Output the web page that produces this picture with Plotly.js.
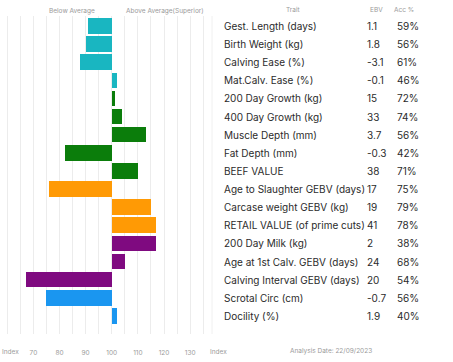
<!DOCTYPE html>
<html>
<head>
<meta charset="utf-8">
<script src="https://cdn.plot.ly/plotly-3.0.1.min.js"></script>
<style>html,body{margin:0;padding:0;background:#fff;}#chart{width:453px;height:362px;}</style>
</head>
<body>
<div id="chart"></div>
<script>
const traits = ["Gest. Length (days)","Birth Weight (kg)","Calving Ease (%)","Mat.Calv. Ease (%)","200 Day Growth (kg)","400 Day Growth (kg)","Muscle Depth (mm)","Fat Depth (mm)","BEEF VALUE","Age to Slaughter GEBV (days)","Carcase weight GEBV (kg)","RETAIL VALUE (of prime cuts)","200 Day Milk (kg)","Age at 1st Calv. GEBV (days)","Calving Interval GEBV (days)","Scrotal Circ (cm)","Docility (%)"];
const ebv = ["1.1","1.8","-3.1","-0.1","15","33","3.7","-0.3","38","17","19","41","2","24","20","-0.7","1.9"];
const acc = ["59%","56%","61%","46%","72%","74%","56%","42%","71%","75%","79%","78%","38%","68%","54%","56%","40%"];
const indexValues = [91,90,88,102,101.3,104,113,82,110,76,115,117,117,105,67,75,102];
const groups = ["fertility","fertility","fertility","fertility","growth","growth","growth","growth","growth","carcase","carcase","carcase","maternal","maternal","maternal","other","other"];
const groupColors = {fertility:"#19b6c1", growth:"#0b7d0b", carcase:"#ff9a05", maternal:"#7f0a80", other:"#1a96f0"};
const tickVals = [60,65,70,75,80,85,90,95,100,105,110,115,120,125,130,135];
const tickText = ["","","70","","80","","90","","100","","110","","120","","130",""];
const headerLeft = ["Below Average","Above Average(Superior)"];
const tableHeader = ["Trait","EBV","Acc %"];
const footerText = ["Index","Index","Analysis Date: 22/09/2023"];

const W = 453, H = 362;
const px = v => v / W;
const rows = traits.map((_, i) => i);

const trace = {
  type: "bar",
  orientation: "h",
  y: rows,
  x: indexValues.map(v => v - 100),
  base: indexValues.map(() => 100),
  width: 0.86,
  marker: {color: groups.map(g => groupColors[g]), line: {width: 0}},
  hoverinfo: "skip"
};

const ann = [];
const tFont = {family: "Inter, 'Open Sans', sans-serif", size: 10, color: "#2b2b2b"};
rows.forEach(i => {
  ann.push({xref: "paper", yref: "y", x: px(222), y: i, text: traits[i], showarrow: false, xanchor: "left", yanchor: "middle", font: tFont});
  ann.push({xref: "paper", yref: "y", x: px(365), y: i, text: ebv[i], showarrow: false, xanchor: "left", yanchor: "middle", font: tFont});
  ann.push({xref: "paper", yref: "y", x: px(395), y: i, text: acc[i], showarrow: false, xanchor: "left", yanchor: "middle", font: tFont});
});
const smallFont = {family: "Inter, 'Open Sans', sans-serif", size: 6.5, color: "#9a9a9a"};
ann.push({xref: "paper", yref: "paper", x: px(72), y: 1 - 11 / H, text: headerLeft[0], showarrow: false, xanchor: "center", yanchor: "middle", font: smallFont});
ann.push({xref: "paper", yref: "paper", x: px(165), y: 1 - 11 / H, text: headerLeft[1], showarrow: false, xanchor: "center", yanchor: "middle", font: smallFont});
ann.push({xref: "paper", yref: "paper", x: px(293), y: 1 - 10 / H, text: tableHeader[0], showarrow: false, xanchor: "center", yanchor: "middle", font: smallFont});
ann.push({xref: "paper", yref: "paper", x: px(376), y: 1 - 10 / H, text: tableHeader[1], showarrow: false, xanchor: "center", yanchor: "middle", font: smallFont});
ann.push({xref: "paper", yref: "paper", x: px(404), y: 1 - 10 / H, text: tableHeader[2], showarrow: false, xanchor: "center", yanchor: "middle", font: smallFont});
ann.push({xref: "paper", yref: "paper", x: px(0), y: 1 - 352 / H, text: footerText[0], showarrow: false, xanchor: "left", yanchor: "middle", font: smallFont});
ann.push({xref: "paper", yref: "paper", x: px(218), y: 1 - 352 / H, text: footerText[1], showarrow: false, xanchor: "center", yanchor: "middle", font: smallFont});
ann.push({xref: "paper", yref: "paper", x: px(331), y: 1 - 351 / H, text: footerText[2], showarrow: false, xanchor: "center", yanchor: "middle", font: smallFont});

const layout = {
  width: W, height: H,
  margin: {l: 0, r: 0, t: 16, b: 28, pad: 0},
  paper_bgcolor: "#ffffff",
  plot_bgcolor: "#ffffff",
  showlegend: false,
  bargap: 0,
  xaxis: {
    domain: [0, 211 / W],
    range: [57.2, 138],
    tickmode: "array", tickvals: tickVals, ticktext: tickText,
    showgrid: true, gridcolor: "#ececec", gridwidth: 1,
    zeroline: false, showline: false,
    ticks: "outside", ticklen: 12, tickcolor: "rgba(0,0,0,0)",
    tickfont: {family: "Inter, 'Open Sans', sans-serif", size: 6.5, color: "#9a9a9a"},
    fixedrange: true
  },
  yaxis: {
    range: [17.0, -0.55],
    showgrid: false, zeroline: false, showticklabels: false, showline: false,
    fixedrange: true
  },
  shapes: [
    {type: "line", xref: "paper", yref: "paper", x0: 212 / W, x1: 212 / W, y0: 0, y1: 1, line: {color: "#f0f0f0", width: 1}}
  ],
  annotations: ann
};
const plotH = H - 16 - 28;
layout.annotations.forEach(a => {
  if (a.yref === "paper") {
    const pyTop = (1 - a.y) * H;
    a.y = 1 - (pyTop - 16) / plotH;
  }
});
Plotly.newPlot("chart", [trace], layout, {displayModeBar: false, staticPlot: true});
</script>
</body>
</html>
